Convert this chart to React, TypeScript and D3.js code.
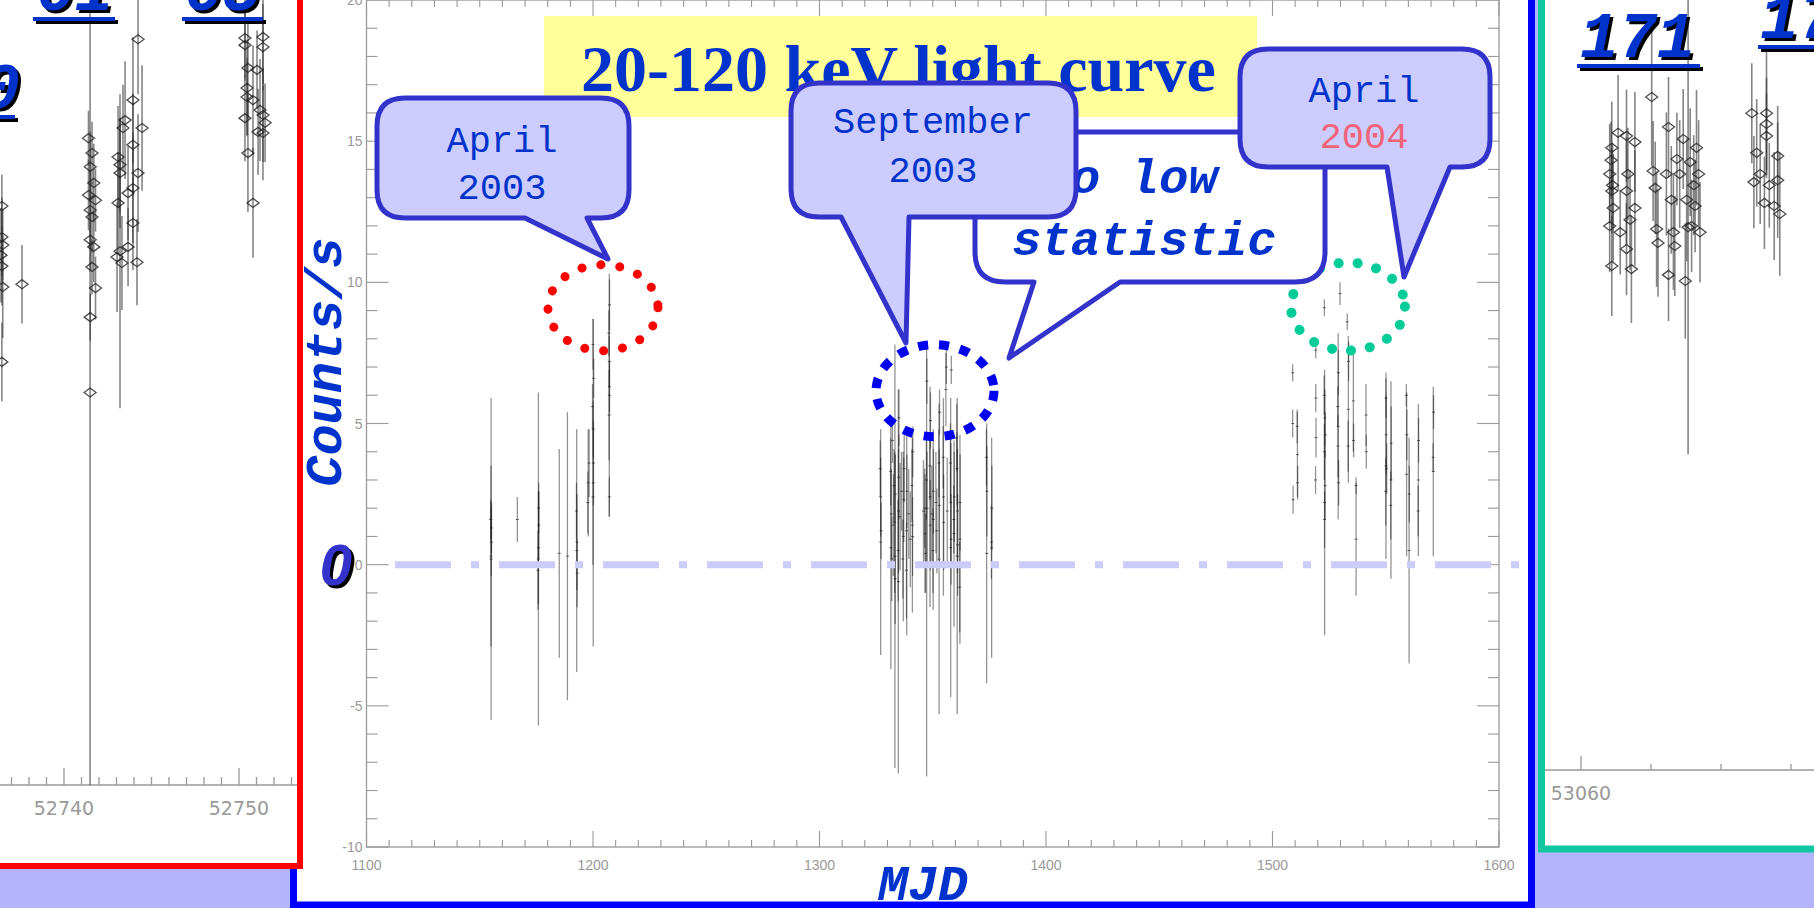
import React, { useEffect, useRef } from 'react';
import * as d3 from 'd3';

type Pt = [number, number, number]; // mjd, rate, error

// 20-120 keV light curve (MJD - 51000, counts/s, 1 sigma)
const april2003: Pt[] = [
  [1155.0, 0.2, 5.7], [1155.0, 0.3, 3.2], [1155.2, 1.3, 0.9], [1154.8, 1.6, 0.7], [1155.1, 0.8, 1.2],
  [1166.6, 1.6, 0.8],
  [1175.9, 0.2, 5.9], [1175.9, 0.6, 2.0], [1176.1, 1.4, 1.2], [1175.7, -0.2, 1.4], [1176.0, 2.0, 0.9],
  [1185.1, 0.4, 3.7],
  [1188.7, 0.3, 5.1],
  [1192.8, 0.5, 4.3], [1192.9, 0.8, 1.7], [1192.7, 1.9, 1.0], [1193.0, -0.3, 1.2],
  [1197.9, 2.9, 1.9], [1198.3, 3.6, 1.2], [1197.7, 2.2, 1.1],
  [1200.1, 2.9, 5.8], [1200.0, 2.4, 2.4], [1200.2, 3.6, 1.5], [1200.1, 4.8, 1.0], [1199.8, 5.6, 0.8],
  [1200.3, 6.6, 0.7], [1200.0, 7.8, 0.9],
  [1207.2, 6.0, 4.3], [1207.1, 5.3, 1.6], [1207.3, 6.3, 0.9], [1207.2, 7.2, 0.9], [1207.0, 8.2, 0.8],
  [1207.3, 9.2, 0.9], [1207.2, 2.4, 0.7],
];

const september2003: Pt[] = [
  [1327.0, 0.8, 4.0], [1327.0, 2.4, 1.4], [1326.8, 3.4, 1.0], [1327.2, 1.2, 1.0],
  [1331.5, 0.6, 4.3], [1331.7, 1.8, 1.6], [1331.4, 3.3, 1.2], [1331.9, 0.2, 1.5], [1332.2, 4.4, 0.8],
  [1332.6, 1.4, 1.8], [1332.9, 2.8, 1.3],
  [1333.3, 0.3, 7.5], [1333.2, 1.5, 2.5], [1333.5, 2.5, 1.4], [1333.4, -0.5, 1.6],
  [1334.8, -0.6, 6.8], [1334.9, 1.9, 2.2], [1335.0, 3.1, 1.5], [1334.7, 0.5, 1.8], [1335.1, 5.2, 1.0],
  [1335.6, 1.7, 1.9], [1336.2, 2.6, 1.4],
  [1337.0, 1.0, 3.0], [1337.2, 2.3, 1.5], [1336.8, 0.2, 1.4], [1337.4, 3.4, 1.2],
  [1338.5, 1.2, 3.7], [1338.6, 2.6, 1.3], [1338.4, -0.2, 1.7],
  [1339.4, 1.8, 1.6], [1340.1, 0.9, 1.7],
  [1341.0, 1.4, 3.1], [1340.8, 2.8, 1.3], [1341.2, 4.0, 0.9], [1341.1, 1.0, 1.4],
  [1345.9, 1.9, 1.8], [1346.6, 1.1, 2.1], [1346.4, 2.0, 1.4], [1346.8, 0.4, 1.4],
  [1347.3, 0.1, 7.6], [1347.5, 2.0, 2.0], [1347.2, 3.0, 1.4], [1347.4, 6.5, 0.8],
  [1348.8, 2.4, 3.9], [1348.9, 1.4, 1.6], [1348.7, 3.5, 1.2], [1349.0, 5.1, 1.0],
  [1349.6, 1.8, 1.7], [1351.4, 2.2, 1.8], [1351.8, 1.2, 1.5],
  [1350.2, 1.6, 3.2], [1350.3, 2.6, 1.5], [1350.1, 0.5, 1.5],
  [1352.8, 0.2, 5.5], [1352.9, 2.1, 2.0], [1352.7, 3.6, 1.2], [1353.0, 5.4, 0.8],
  [1354.7, 2.4, 3.5], [1354.8, 1.5, 1.7], [1354.6, 3.8, 1.1],
  [1355.8, 6.2, 1.3], [1356.0, 7.0, 0.6], [1356.4, 1.9, 1.9],
  [1357.9, 0.6, 5.3], [1358.0, 2.2, 2.1], [1357.8, 3.6, 1.4], [1358.1, 0.9, 1.6], [1358.2, 6.9, 0.5],
  [1359.4, 1.1, 3.3], [1359.5, 2.4, 1.6], [1359.3, 1.6, 1.2],
  [1360.8, 0.3, 5.6], [1360.9, 1.9, 2.2], [1360.7, 3.4, 1.3], [1361.0, 0.7, 1.8], [1360.6, 4.5, 1.2],
  [1362.0, 0.9, 3.7], [1362.1, 2.2, 1.7], [1361.9, -0.8, 1.6],
  [1373.8, 0.4, 4.6], [1373.9, 2.6, 1.6], [1373.7, 3.8, 1.0],
  [1376.0, 0.6, 3.9], [1376.1, 2.0, 1.5], [1375.9, 0.8, 1.3],
];

const april2004: Pt[] = [
  [1508.9, 6.8, 0.3], [1508.9, 5.0, 0.5], [1509.1, 2.3, 0.5],
  [1511.0, 3.9, 1.5], [1511.1, 2.9, 0.6], [1510.9, 4.9, 0.6],
  [1519.1, 7.6, 0.3], [1519.1, 5.9, 0.5], [1519.2, 4.5, 0.7], [1519.0, 3.0, 0.5],
  [1523.0, 2.2, 4.7], [1523.1, 5.2, 1.0], [1522.9, 4.0, 1.0], [1523.2, 2.8, 1.2], [1523.0, 1.6, 1.0],
  [1522.8, 6.0, 0.7], [1522.9, 9.1, 0.3], [1523.3, 4.6, 0.8],
  [1529.0, 4.9, 3.3], [1529.1, 6.8, 0.8], [1528.9, 4.2, 1.1], [1529.2, 2.9, 0.8], [1529.8, 9.6, 0.4],
  [1528.8, 5.6, 0.7],
  [1533.5, 5.5, 2.6], [1533.6, 7.2, 0.7], [1533.4, 4.2, 0.9], [1533.0, 8.6, 0.3],
  [1535.7, 5.8, 1.8], [1535.8, 4.4, 0.6],
  [1536.9, 0.9, 2.0], [1536.9, 2.8, 0.3],
  [1541.3, 5.3, 1.1], [1541.4, 4.0, 0.6],
  [1550.1, 3.5, 3.3], [1550.2, 4.6, 1.4], [1550.0, 2.6, 1.2], [1550.1, 5.9, 0.7], [1550.4, 3.4, 0.9],
  [1552.3, 3.0, 3.5], [1552.4, 4.3, 1.3], [1552.2, 2.1, 1.2],
  [1559.2, 3.2, 2.9], [1559.3, 4.6, 0.9], [1559.1, 6.0, 0.4],
  [1560.3, 0.5, 4.0], [1560.4, 2.5, 1.0],
  [1564.4, 3.0, 2.7], [1564.5, 4.4, 0.8], [1564.3, 1.9, 0.9],
  [1571.0, 3.3, 3.0], [1571.1, 5.4, 0.6], [1570.9, 3.8, 0.5],
];

const xTicks = [1100, 1200, 1300, 1400, 1500, 1600];
const yTicks = [-10, -5, 0, 5, 10, 15, 20];

// zoomed revolutions shown at the slide edges
const revLeft: Pt[] = [
  [52736.45, 9.75, 0.8], [52736.45, 8.96, 1.0], [52736.5, 8.76, 0.9], [52736.4, 8.5, 1.2],
  [52736.45, 8.22, 1.0], [52736.5, 7.69, 1.3], [52736.45, 5.78, 1.0], [52737.6, 7.76, 1.0],
  [52741.49, 5.0, 10.0],
  [52741.4, 11.48, 0.7], [52741.6, 11.1, 0.8], [52741.5, 10.75, 0.9], [52741.7, 10.34, 1.0],
  [52741.4, 10.03, 0.9], [52741.8, 9.9, 0.8], [52741.5, 9.65, 1.0], [52741.6, 9.47, 0.9],
  [52741.5, 8.89, 0.8], [52741.7, 8.71, 0.9], [52741.6, 8.2, 0.7], [52741.8, 7.66, 0.8],
  [52741.5, 6.92, 0.6],
  [52743.09, 11.0, 1.3], [52743.2, 10.8, 1.2], [52743.2, 10.59, 1.4], [52743.37, 11.74, 1.1],
  [52743.49, 11.94, 1.5], [52743.66, 10.08, 1.2], [52743.94, 12.45, 1.6], [52743.94, 11.31, 1.3],
  [52743.94, 10.21, 1.4], [52743.94, 9.32, 1.2], [52744.23, 10.59, 1.5], [52744.46, 11.74, 1.6],
  [52743.09, 9.83, 1.3], [52743.03, 8.45, 1.4], [52743.31, 8.3, 1.2], [52743.66, 8.71, 1.0],
  [52744.17, 8.32, 1.1], [52744.23, 14.0, 1.4], [52743.2, 8.6, 4.0],
  [52750.34, 14.03, 1.0], [52751.37, 14.06, 1.2], [52750.34, 13.85, 0.9], [52751.37, 13.8, 1.1],
  [52750.51, 13.27, 1.3], [52751.03, 13.22, 1.0], [52750.46, 12.76, 1.2], [52750.46, 12.53, 1.0],
  [52750.8, 12.45, 1.4], [52750.34, 11.99, 1.1], [52751.2, 12.2, 1.3], [52751.37, 12.07, 1.2],
  [52751.49, 11.87, 1.0], [52751.09, 11.64, 1.1], [52751.37, 11.61, 1.2], [52750.51, 11.1, 1.5],
  [52750.8, 9.83, 1.4],
];

const revRight: Pt[] = [
  [53060.44, 11.16, 1.2], [53060.41, 10.48, 1.3], [53060.44, 10.04, 1.1], [53060.46, 9.6, 1.4],
  [53060.41, 9.13, 1.2], [53060.44, 8.09, 1.3], [53060.53, 11.55, 1.5], [53060.65, 11.47, 1.2],
  [53060.77, 11.31, 1.3], [53060.67, 10.48, 1.2], [53060.65, 10.04, 1.4], [53060.7, 9.29, 1.3],
  [53060.77, 9.6, 1.5], [53060.72, 8.01, 1.4], [53060.65, 8.53, 1.2], [53060.56, 8.97, 1.1],
  [53060.43, 10.84, 1.0], [53060.45, 10.19, 1.1],
  [53061.01, 12.48, 1.8], [53061.03, 10.56, 1.3], [53061.06, 10.12, 1.2], [53061.08, 9.05, 1.5],
  [53061.1, 8.69, 1.4], [53061.25, 11.7, 1.3], [53061.22, 10.48, 1.6], [53061.25, 7.86, 1.2],
  [53061.29, 9.81, 1.4], [53061.32, 8.97, 1.5], [53061.34, 8.61, 1.3], [53061.37, 10.87, 1.2],
  [53061.41, 10.48, 1.4], [53061.46, 11.39, 1.3], [53061.49, 7.7, 1.5], [53061.51, 9.81, 1.6],
  [53061.56, 10.79, 1.4], [53061.58, 9.13, 1.2], [53061.61, 10.19, 1.3], [53061.65, 11.16, 1.5],
  [53061.68, 10.48, 1.4], [53061.7, 8.97, 1.3], [53061.63, 9.65, 1.2], [53061.53, 9.1, 5.9],
  [53062.44, 12.06, 1.3], [53062.65, 12.06, 1.6], [53062.65, 11.78, 1.2], [53062.65, 11.47, 1.1],
  [53062.51, 11.03, 1.4], [53062.56, 10.48, 1.3], [53062.47, 10.27, 1.2], [53062.81, 10.95, 1.3],
  [53062.81, 10.32, 1.5], [53062.76, 9.65, 1.4], [53062.84, 9.44, 1.6], [53062.62, 9.73, 1.2],
  [53062.69, 10.19, 1.1],
];

const leftTicks = [52740, 52750];
const rightTicks = [53060];

const BLUE_TEXT = '#0033cc';
const MONO = '"Liberation Mono", "Courier New", monospace';
const SANS = '"Liberation Sans", Arial, sans-serif';

function calloutPath(x0: number, y0: number, x1: number, y1: number, r: number,
  tl: number, tip: [number, number], tr: number) {
  return `M${x0 + r},${y0} H${x1 - r} Q${x1},${y0} ${x1},${y0 + r} V${y1 - r} Q${x1},${y1} ${x1 - r},${y1} ` +
    `H${tr} L${tip[0]},${tip[1]} L${tl},${y1} H${x0 + r} Q${x0},${y1} ${x0},${y1 - r} V${y0 + r} Q${x0},${y0} ${x0 + r},${y0} Z`;
}

export default function App() {
  const svgRef = useRef<SVGSVGElement>(null);
  const W = 1814;
  const H = 908;

  useEffect(() => {
    const svg = d3.select(svgRef.current);
    svg.selectAll('*').remove();

    // slide background and the three framed panels
    svg.append('rect').attr('width', W).attr('height', H).attr('fill', '#b4b4fa');
    svg.append('rect').attr('x', 293.5).attr('y', -10).attr('width', 1238).attr('height', 915)
      .attr('fill', 'white').attr('stroke', '#0000ff').attr('stroke-width', 7);

    const defs = svg.append('defs');
    defs.append('clipPath').attr('id', 'clipL').append('rect').attr('x', 0).attr('y', 0).attr('width', 297).attr('height', 863);
    defs.append('clipPath').attr('id', 'clipR').append('rect').attr('x', 1545).attr('y', 0).attr('width', 269).attr('height', 846);

    svg.append('rect').attr('x', -10).attr('y', -10).attr('width', 310).attr('height', 876)
      .attr('fill', 'white').attr('stroke', '#ff0000').attr('stroke-width', 6);
    svg.append('rect').attr('x', 1541.5).attr('y', -10).attr('width', 300).attr('height', 859)
      .attr('fill', 'white').attr('stroke', '#10c8a0').attr('stroke-width', 7);

    // ---------- side panels (single revolutions) ----------
    const sidePanel = (clip: string, pts: Pt[], xs: d3.ScaleLinear<number, number>, ys: d3.ScaleLinear<number, number>,
      axisY: number, x0: number, x1: number, ticks: number[], minorLen: number, majorLen: number, labelY: number) => {
      const g = svg.append('g').attr('clip-path', `url(#${clip})`);
      const [d0, d1] = [xs.invert(x0), xs.invert(x1)];
      g.append('line').attr('x1', x0).attr('x2', x1).attr('y1', axisY).attr('y2', axisY)
        .attr('stroke', '#999').attr('stroke-width', 1.3);
      d3.range(Math.ceil(d0), Math.floor(d1) + 1).forEach(d => {
        const major = ticks.includes(d);
        g.append('line').attr('x1', xs(d)).attr('x2', xs(d)).attr('y1', axisY)
          .attr('y2', axisY - (major ? majorLen : minorLen)).attr('stroke', '#999').attr('stroke-width', 1.3);
      });
      ticks.forEach(t => {
        g.append('text').attr('x', xs(t)).attr('y', labelY).attr('text-anchor', 'middle')
          .attr('font-family', '"DejaVu Sans", sans-serif').attr('font-size', 19).attr('fill', '#999')
          .text(String(t));
      });
      g.selectAll('.eb').data(pts).enter().append('line')
        .attr('x1', d => xs(d[0])).attr('x2', d => xs(d[0]))
        .attr('y1', d => ys(d[1] - d[2])).attr('y2', d => ys(d[1] + d[2]))
        .attr('stroke', '#333').attr('stroke-opacity', 0.6).attr('stroke-width', 1.6);
      g.selectAll('.dm').data(pts).enter().append('path')
        .attr('d', d => {
          const cx = xs(d[0]);
          const cy = ys(d[1]);
          return `M${cx - 6},${cy} L${cx},${cy - 4.5} L${cx + 6},${cy} L${cx},${cy + 4.5} Z`;
        })
        .attr('fill', 'none').attr('stroke', '#222').attr('stroke-opacity', 0.8).attr('stroke-width', 1.3);
      return g;
    };

    const xl = d3.scaleLinear().domain([52740, 52750]).range([64, 239]);
    const yl = d3.scaleLinear().domain([-5, 15]).range([785, 0]);
    sidePanel('clipL', revLeft, xl, yl, 785, 0, 297, leftTicks, 8, 17, 815);

    const xr = d3.scaleLinear().domain([53060, 53061]).range([1581, 1651]);
    const yr = d3.scaleLinear().domain([-5, 15]).range([770, 0]);
    sidePanel('clipR', revRight, xr, yr, 770, 1545, 1814, rightTicks, 6, 14, 800);

    // revolution numbers
    const revLabel = (txt: string, x: number, base: number, anchor: string, ux0: number, ux1: number) => {
      const g = svg.append('g').style('font-family', MONO).style('font-weight', 'bold')
        .style('font-style', 'italic').style('font-size', '64px');
      g.append('rect').attr('x', ux0 + 3).attr('y', base + 10).attr('width', ux1 - ux0).attr('height', 4).attr('fill', '#000');
      g.append('rect').attr('x', ux0).attr('y', base + 7).attr('width', ux1 - ux0).attr('height', 4).attr('fill', BLUE_TEXT);
      g.append('text').attr('x', x + 3).attr('y', base + 3).attr('text-anchor', anchor).attr('fill', '#000').text(txt);
      g.append('text').attr('x', x).attr('y', base).attr('text-anchor', anchor).attr('fill', BLUE_TEXT).text(txt);
    };
    revLabel('60', 20, 108, 'end', -20, 15);
    revLabel('61', 36, 10, 'start', 33, 115);
    revLabel('63', 184, 10, 'start', 182, 263);
    revLabel('171', 1580, 57, 'start', 1577, 1700);
    revLabel('172', 1760, 38, 'start', 1758, 1830);

    // ---------- main light curve ----------
    const x = d3.scaleLinear().domain([1100, 1600]).range([366.5, 1499]);
    const y = d3.scaleLinear().domain([-10, 20]).range([847, 0]);
    const plot = svg.append('g');
    const axisColor = '#999';

    plot.append('rect').attr('x', x(1100)).attr('y', y(20)).attr('width', x(1600) - x(1100))
      .attr('height', y(-10) - y(20)).attr('fill', 'none').attr('stroke', axisColor).attr('stroke-width', 1.3);

    d3.range(1100, 1601, 10).forEach(v => {
      const major = v % 100 === 0;
      const len = major ? 16 : 7;
      plot.append('line').attr('x1', x(v)).attr('x2', x(v)).attr('y1', y(-10)).attr('y2', y(-10) - len)
        .attr('stroke', axisColor).attr('stroke-width', 1.1);
      plot.append('line').attr('x1', x(v)).attr('x2', x(v)).attr('y1', y(20)).attr('y2', y(20) + len)
        .attr('stroke', axisColor).attr('stroke-width', 1.1);
    });
    d3.range(-10, 21, 1).forEach(v => {
      const major = v % 5 === 0;
      const len = major ? 22 : 11;
      plot.append('line').attr('x1', x(1100)).attr('x2', x(1100) + len).attr('y1', y(v)).attr('y2', y(v))
        .attr('stroke', axisColor).attr('stroke-width', 1.1);
      plot.append('line').attr('x1', x(1600)).attr('x2', x(1600) - len).attr('y1', y(v)).attr('y2', y(v))
        .attr('stroke', axisColor).attr('stroke-width', 1.1);
    });
    xTicks.forEach(t => {
      plot.append('text').attr('x', x(t)).attr('y', y(-10) + 23).attr('text-anchor', 'middle')
        .attr('font-family', SANS).attr('font-size', 14).attr('fill', '#999').text(String(t));
    });
    yTicks.forEach(t => {
      plot.append('text').attr('x', x(1100) - 4).attr('y', y(t) + 5).attr('text-anchor', 'end')
        .attr('font-family', SANS).attr('font-size', 14).attr('fill', '#999').text(String(t));
    });

    const all = [...april2003, ...september2003, ...april2004];
    plot.selectAll('.bar').data(all).enter().append('line')
      .attr('x1', d => x(d[0])).attr('x2', d => x(d[0]))
      .attr('y1', d => y(d[1] - d[2])).attr('y2', d => y(d[1] + d[2]))
      .attr('stroke', '#111').attr('stroke-opacity', 0.45).attr('stroke-width', 1.3);
    plot.selectAll('.cap').data(all).enter().append('line')
      .attr('x1', d => x(d[0]) - 1.5).attr('x2', d => x(d[0]) + 1.5)
      .attr('y1', d => y(d[1])).attr('y2', d => y(d[1]))
      .attr('stroke', '#111').attr('stroke-opacity', 0.6).attr('stroke-width', 1);

    // zero level
    plot.append('line').attr('x1', 395).attr('x2', 1522).attr('y1', y(0)).attr('y2', y(0))
      .attr('stroke', '#ccccfa').attr('stroke-width', 7).attr('stroke-dasharray', '56 20 8 20');

    // dotted rings around the flares
    const ring = (mjd: number, rate: number, rx: number, ry: number, color: string, dash: string, cap: string, w: number) => {
      plot.append('ellipse').attr('cx', x(mjd)).attr('cy', y(rate)).attr('rx', rx).attr('ry', ry)
        .attr('fill', 'none').attr('stroke', color).attr('stroke-width', w)
        .attr('stroke-dasharray', dash).attr('stroke-linecap', cap);
    };
    ring(1204.4, 9.1, 55, 43, '#ff0000', '0.1 19', 'round', 9);
    ring(1351, 6.16, 59, 46, '#0000ee', '10 11', 'butt', 9);
    ring(1533.3, 9.14, 57, 44, '#00cc99', '0.1 19', 'round', 10);

    // axis titles
    svg.append('text').attr('transform', 'translate(341,362) rotate(-90)').attr('text-anchor', 'middle')
      .style('font-family', MONO).style('font-weight', 'bold').style('font-style', 'italic')
      .style('font-size', '52px').attr('fill', BLUE_TEXT).text('Counts/s');
    svg.append('text').attr('x', 339).attr('y', 588).attr('text-anchor', 'middle')
      .style('font-family', SANS).style('font-weight', 'bold').style('font-style', 'italic')
      .style('font-size', '58px').attr('fill', '#000').text('0');
    svg.append('text').attr('x', 336).attr('y', 585).attr('text-anchor', 'middle')
      .style('font-family', SANS).style('font-weight', 'bold').style('font-style', 'italic')
      .style('font-size', '58px').attr('fill', '#3333cc').text('0');
    svg.append('text').attr('x', 923).attr('y', 900).attr('text-anchor', 'middle')
      .style('font-family', MONO).style('font-weight', 'bold').style('font-style', 'italic')
      .style('font-size', '50px').attr('fill', BLUE_TEXT).text('MJD');

    // title
    svg.append('rect').attr('x', 544).attr('y', 16).attr('width', 713).attr('height', 101).attr('fill', '#ffff99');
    svg.append('text').attr('x', 581).attr('y', 91)
      .style('font-family', '"Liberation Serif", "Times New Roman", serif').style('font-weight', 'bold')
      .style('font-size', '66px').attr('fill', BLUE_TEXT).text('20-120 keV light curve');

    // callouts
    const stroke = '#3333cc';
    const callout = (d: string, fill: string) => {
      svg.append('path').attr('d', d).attr('fill', fill).attr('stroke', stroke)
        .attr('stroke-width', 5).attr('stroke-linejoin', 'round');
    };
    const label = (txt: string, cx: number, base: number, color: string, size: number, bold = false, anchor = 'middle') => {
      svg.append('text').attr('x', cx).attr('y', base).attr('text-anchor', anchor)
        .style('font-family', MONO).style('font-size', `${size}px`)
        .style('font-weight', bold ? 'bold' : 'normal').style('font-style', bold ? 'italic' : 'normal')
        .attr('fill', color).text(txt);
    };

    callout(calloutPath(975, 132, 1325, 282, 30, 1034, [1009, 358], 1120), 'white');
    label('Too low', 1012, 193, BLUE_TEXT, 49, true, 'start');
    label('statistic', 1012, 255, BLUE_TEXT, 49, true, 'start');

    callout(calloutPath(791, 83, 1076, 217, 28, 841, [906, 343], 909), '#ccccff');
    label('September', 933, 133, BLUE_TEXT, 37);
    label('2003', 933, 182, BLUE_TEXT, 37);

    callout(calloutPath(377, 98, 629, 218, 28, 525, [608, 259], 587), '#ccccff');
    label('April', 502, 152, BLUE_TEXT, 37);
    label('2003', 502, 199, BLUE_TEXT, 37);

    callout(calloutPath(1240, 49, 1490, 167, 28, 1387, [1404, 277], 1450), '#ccccff');
    label('April', 1364, 102, BLUE_TEXT, 37);
    label('2004', 1364, 148, '#f06478', 37);
  }, []);

  return (
    <svg
      ref={svgRef}
      width={W}
      height={H}
      style={{ position: 'absolute', left: 0, top: 0, display: 'block' }}
    />
  );
}
